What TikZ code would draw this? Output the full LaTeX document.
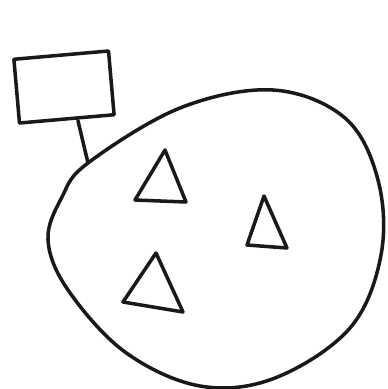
\documentclass[tikz,border=0pt]{standalone}
\usepackage{tikz}
\usetikzlibrary{positioning}

\begin{document}
\begin{tikzpicture}[
    x=0.02cm, y=-0.02cm,
    ink/.style={draw=black!90, line width=2pt, line join=round, line cap=round},
    box/.style={ink, minimum width=1.9cm, minimum height=1.28cm, rotate=5, inner sep=0pt}
]
    \useasboundingbox (0,0) rectangle (387,389);
    % blob with triangles
    \draw[ink] plot[smooth cycle, tension=0.6] coordinates {
        (88,163) (180,108) (273,90) (345,118) (378,180) (381,255)
        (350,328) (275,378) (200,386) (125,352) (68,290) (48,240) (62,197)};
    \coordinate (joint) at (88,163);
    \draw[ink] (165,150) -- (186,202) -- (135,200) -- cycle;
    \draw[ink] (264,196) -- (287,248) -- (247,245) -- cycle;
    \draw[ink] (156,253) -- (183,312) -- (123,302) -- cycle;
    % label box
    \node[box] (tag) at (64,87) {};
    \coordinate (stem) at ([xshift=0.22cm]tag.south);
    \draw[ink] (stem) -- (joint);
\end{tikzpicture}
\end{document}
